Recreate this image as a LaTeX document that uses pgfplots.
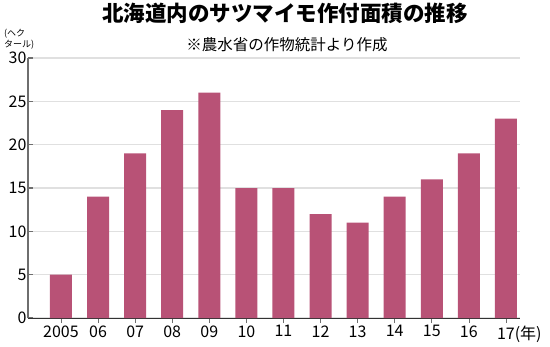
\documentclass[border=0pt]{standalone}
\usepackage{fontspec}
\setmainfont{Noto Sans CJK JP}
\usepackage{pgfplots}
\pgfplotsset{compat=1.18}
\definecolor{barc}{RGB}{184,82,118}
\definecolor{gridc}{RGB}{224,224,224}
\definecolor{axc}{RGB}{110,110,110}
\begin{document}
\begin{tikzpicture}[x=1bp,y=1bp]
\path[use as bounding box] (0,0) rectangle (550,346);
\node[font=\fontsize{21.5bp}{24bp}\selectfont\bfseries] at (285,333) {北海道内のサツマイモ作付面積の推移};
\node[font=\fontsize{15.5bp}{18bp}\selectfont] at (287,301) {※農水省の作物統計より作成};
\node[font=\fontsize{9bp}{8.5bp}\selectfont, align=left, inner sep=0pt, anchor=south west] at (4,297) {(ヘク\\タール)};
\begin{axis}[
  at={(28bp,28bp)}, anchor=south west,
  scale only axis, width=492bp, height=260bp,
  xmin=-0.89, xmax=12.38, ymin=0, ymax=30,
  ytick={0,5,...,30},
  xtick={0,...,12},
  xticklabels={2005,06,07,08,09,10,11,12,13,14,15,16,{17\rlap{(年)}}},
  ybar, bar width=22bp,
  axis x line*=bottom, axis y line*=left,
  x axis line style={draw=black!80, line width=0.8bp, -},
  y axis line style={draw=axc, line width=1.2bp, -},
  ymajorgrids, major grid style={draw=gridc, line width=1.2bp},
  ytick style={draw=axc, line width=1.2bp},
  xtick style={draw=axc, line width=0.6bp},
  ytick align=inside, xtick align=outside,
  major tick length=5bp,
  tick label style={font=\fontsize{16bp}{18bp}\selectfont},
  /pgf/number format/assume math mode=true,
  yticklabel style={xshift=2bp},
  xticklabel style={yshift=1bp},
  clip=false,
]
\addplot[fill=barc, draw=none] coordinates {
(0,5) (1,14) (2,19) (3,24) (4,26) (5,15) (6,15) (7,12) (8,11) (9,14) (10,16) (11,19) (12,23)};
\end{axis}
\end{tikzpicture}
\end{document}
